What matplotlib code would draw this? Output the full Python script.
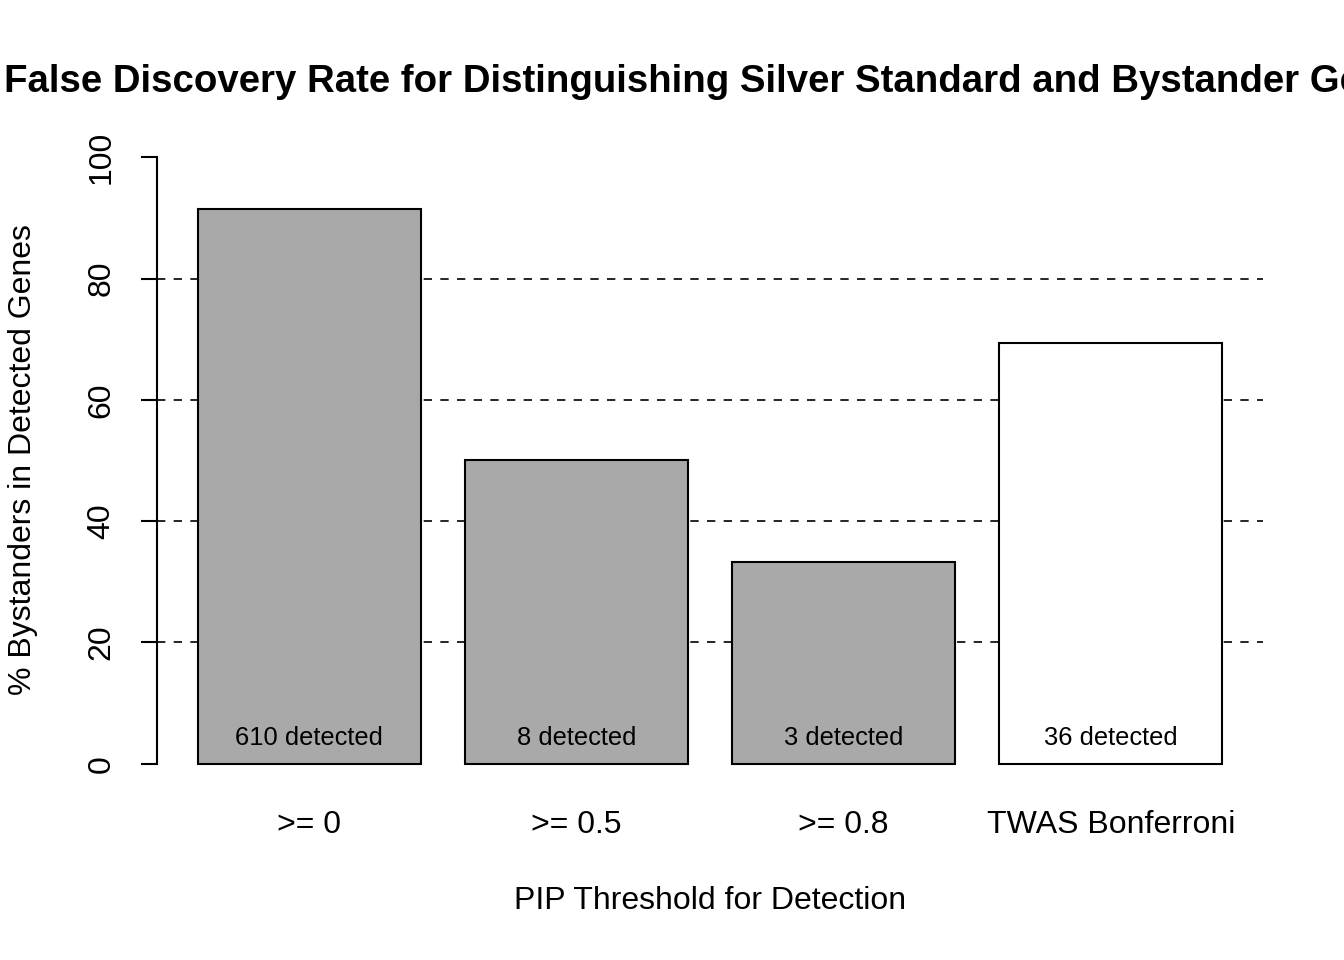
"""Bar chart of false discovery rate (% bystanders) by PIP threshold."""

import numpy as np
import matplotlib
matplotlib.use("Agg")
import matplotlib.pyplot as plt

plt.rcParams["font.family"] = ["Liberation Sans", "DejaVu Sans"]

# data
categories = [">= 0", ">= 0.5", ">= 0.8", "TWAS Bonferroni"]
pct_bystanders = [91.48, 50.0, 33.33, 69.44]
n_detected = [610, 8, 3, 36]
bar_colors = ["#a9a9a9", "#a9a9a9", "#a9a9a9", "#ffffff"]
grid_levels = [20, 40, 60, 80]
y_ticks = [0, 20, 40, 60, 80, 100]

W, H = 1344, 960
fig = plt.figure(figsize=(W / 100, H / 100), dpi=100)
# plot region in pixels (left, bottom, right, top)
left, right, top, bottom = 157, 1263, 133, 788
ax = fig.add_axes([left / W, 1 - bottom / H, (right - left) / W, (bottom - top) / H])

# R barplot layout: width 1, space 0.2
centers = 0.7 + 1.2 * np.arange(len(categories))

for lvl in grid_levels:
    ax.axhline(lvl, color="black", lw=1.2, dashes=(5, 5), zorder=1)

ax.bar(centers, pct_bystanders, width=1.0, color=bar_colors,
       edgecolor="black", linewidth=1.5, zorder=2)

for x, n in zip(centers, n_detected):
    ax.text(x, 4.3, f"{n} detected", ha="center", va="center",
            fontsize=18.4, zorder=3)

ax.set_xlim(0.016, 4.984)
ax.set_ylim(-4, 104)

ax.set_xticks(centers)
ax.set_xticklabels(categories, fontsize=23)
ax.tick_params(axis="x", length=0, pad=15.5)

ax.set_yticks(y_ticks)
ax.set_yticklabels([str(t) for t in y_ticks], fontsize=23, rotation=90,
                   va="center")
ax.tick_params(axis="y", length=11.5, width=1.5, pad=17.5)

for side in ["top", "right", "bottom"]:
    ax.spines[side].set_visible(False)
ax.spines["left"].set_bounds(0, 100)
ax.spines["left"].set_linewidth(1.5)

# title is wider than the page and gets cut at the right edge, as in the original
fig.text(715 / W, 1 - 82 / H,
         "False Discovery Rate for Distinguishing Silver Standard and Bystander Genes",
         ha="center", va="center", fontsize=27.6, fontweight="bold")
fig.text(710 / W, 1 - 901 / H, "PIP Threshold for Detection",
         ha="center", va="center", fontsize=23)
fig.text(23 / W, 1 - 460 / H, "% Bystanders in Detected Genes",
         ha="center", va="center", fontsize=23, rotation=90)

fig.savefig("out.png", dpi=100)
